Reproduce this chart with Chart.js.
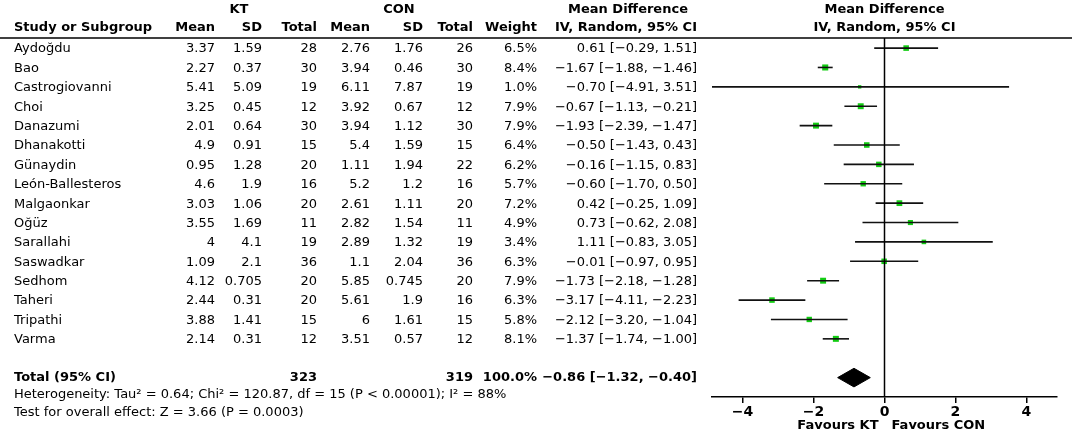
<!DOCTYPE html>
<html><head><meta charset="utf-8">
<script src="https://cdn.jsdelivr.net/npm/chart.js@4.4.1/dist/chart.umd.min.js"></script>
<style>html,body{margin:0;padding:0;background:#fff;}#wrap{width:1072px;height:433px;position:relative;}</style>
</head><body><div id="wrap"><canvas id="c"></canvas></div>
<script>
const studies=['Aydoğdu','Bao','Castrogiovanni','Choi','Danazumi','Dhanakotti','Günaydin','León-Ballesteros','Malgaonkar','Oğüz','Sarallahi','Saswadkar','Sedhom','Taheri','Tripathi','Varma'];
const ktMean=[3.37,2.27,5.41,3.25,2.01,4.9,0.95,4.6,3.03,3.55,4,1.09,4.12,2.44,3.88,2.14];
const ktSD=[1.59,0.37,5.09,0.45,0.64,0.91,1.28,1.9,1.06,1.69,4.1,2.1,0.705,0.31,1.41,0.31];
const ktN=[28,30,19,12,30,15,20,16,20,11,19,36,20,20,15,12];
const conMean=[2.76,3.94,6.11,3.92,3.94,5.4,1.11,5.2,2.61,2.82,2.89,1.1,5.85,5.61,6,3.51];
const conSD=[1.76,0.46,7.87,0.67,1.12,1.59,1.94,1.2,1.11,1.54,1.32,2.04,0.745,1.9,1.61,0.57];
const conN=[26,30,19,12,30,15,22,16,20,11,19,36,20,16,15,12];
const weight=[6.5,8.4,1.0,7.9,7.9,6.4,6.2,5.7,7.2,4.9,3.4,6.3,7.9,6.3,5.8,8.1];
const md=[0.61,-1.67,-0.70,-0.67,-1.93,-0.50,-0.16,-0.60,0.42,0.73,1.11,-0.01,-1.73,-3.17,-2.12,-1.37];
const ciLo=[-0.29,-1.88,-4.91,-1.13,-2.39,-1.43,-1.15,-1.70,-0.25,-0.62,-0.83,-0.97,-2.18,-4.11,-3.20,-1.74];
const ciHi=[1.51,-1.46,3.51,-0.21,-1.47,0.43,0.83,0.50,1.09,2.08,3.05,0.95,-1.28,-2.23,-1.04,-1.00];
const totalKtN=323, totalConN=319, totalWeight=100.0;
const totalMd=-0.86, totalLo=-1.32, totalHi=-0.40;
const xTicks=[-4,-2,0,2,4];
const heterogeneity='Heterogeneity: Tau² = 0.64; Chi² = 120.87, df = 15 (P < 0.00001); I² = 88%';
const overall='Test for overall effect: Z = 3.66 (P = 0.0003)';
const favLeft='Favours KT', favRight='Favours CON';

const X_MIN=-4.86, X_MAX=4.86, Y_MIN=-0.52, Y_MAX=18.0, TOTAL_ROW=17, DIAMOND_H=0.48;
const FONT='"DejaVu Sans", Verdana, sans-serif';
const neg=s=>s.replace(/-/g,'\u2212');
const f2=v=>neg(v.toFixed(2));
const ci=(m,l,h)=>f2(m)+' ['+f2(l)+', '+f2(h)+']';

const datasets=[];
datasets.push({data:[{x:0,y:Y_MIN},{x:0,y:Y_MAX}],showLine:true,borderColor:'#000',borderWidth:1.5,pointRadius:0});
studies.forEach((s,i)=>{
  datasets.push({data:[{x:ciLo[i],y:i},{x:ciHi[i],y:i}],showLine:true,borderColor:'#111',borderWidth:1.6,pointRadius:0});
});
datasets.push({data:md.map((m,i)=>({x:m,y:i})),showLine:false,pointStyle:'rect',
  pointRadius:weight.map(w=>(2+1.4*Math.sqrt(w))/Math.SQRT2),backgroundColor:'#12cc12',borderWidth:0});
datasets.push({data:[{x:totalLo,y:TOTAL_ROW},{x:totalMd,y:TOTAL_ROW-DIAMOND_H},{x:totalHi,y:TOTAL_ROW},{x:totalMd,y:TOTAL_ROW+DIAMOND_H},{x:totalLo,y:TOTAL_ROW}],
  showLine:true,fill:'shape',backgroundColor:'#000',borderColor:'#000',borderWidth:1,pointRadius:0,tension:0});

const tablePlugin={id:'table',afterDraw(chart){
  const ctx=chart.ctx, y=chart.scales.y, x=chart.scales.x, ca=chart.chartArea;
  ctx.save();
  ctx.fillStyle='#000';ctx.textBaseline='middle';
  const bold='bold 13px '+FONT, reg='13px '+FONT;
  const t=(s,px,py,al,f)=>{ctx.font=f;ctx.textAlign=al;ctx.fillText(s,px,py);};
  ctx.strokeStyle='#000';ctx.lineWidth=1.5;ctx.beginPath();ctx.moveTo(0,ca.top);ctx.lineTo(chart.width,ca.top);ctx.stroke();
  const h1=10,h2=28;
  t('KT',239,h1,'center',bold);t('CON',399,h1,'center',bold);
  t('Mean Difference',628,h1,'center',bold);t('Mean Difference',x.getPixelForValue(0),h1,'center',bold);
  t('Study or Subgroup',14,h2,'left',bold);
  t('Mean',215,h2,'right',bold);t('SD',262,h2,'right',bold);t('Total',317,h2,'right',bold);
  t('Mean',370,h2,'right',bold);t('SD',423,h2,'right',bold);t('Total',473,h2,'right',bold);
  t('Weight',537,h2,'right',bold);t('IV, Random, 95% CI',697,h2,'right',bold);
  t('IV, Random, 95% CI',x.getPixelForValue(0),h2,'center',bold);
  studies.forEach((s,i)=>{
    const py=y.getPixelForValue(i)+1;
    t(s,14,py,'left',reg);
    t(String(ktMean[i]),215,py,'right',reg);t(String(ktSD[i]),262,py,'right',reg);t(String(ktN[i]),317,py,'right',reg);
    t(String(conMean[i]),370,py,'right',reg);t(String(conSD[i]),423,py,'right',reg);t(String(conN[i]),473,py,'right',reg);
    t(weight[i].toFixed(1)+'%',537,py,'right',reg);
    t(ci(md[i],ciLo[i],ciHi[i]),697,py,'right',reg);
  });
  const ty=y.getPixelForValue(TOTAL_ROW);
  t('Total (95% CI)',14,ty,'left',bold);t(String(totalKtN),317,ty,'right',bold);t(String(totalConN),473,ty,'right',bold);
  t(totalWeight.toFixed(1)+'%',537,ty,'right',bold);t(ci(totalMd,totalLo,totalHi),697,ty,'right',bold);
  t(heterogeneity,14,395,'left',reg);
  t(overall,14,413,'left',reg);
  const zx=x.getPixelForValue(0);
  t(favLeft,zx-6,426,'right',bold);t(favRight,zx+7,426,'left',bold);
  ctx.restore();
}};

new Chart(document.getElementById('c'),{type:'scatter',data:{datasets},
 options:{responsive:true,maintainAspectRatio:false,animation:false,
  layout:{padding:{left:712,right:15,top:38,bottom:0}},
  plugins:{legend:{display:false},tooltip:{enabled:false}},
  scales:{
   x:{type:'linear',min:X_MIN,max:X_MAX,
      afterBuildTicks:s=>{s.ticks=xTicks.map(v=>({value:v}));},
      afterFit:s=>{s.height=36;},
      grid:{drawOnChartArea:false,drawTicks:true,tickLength:6,color:'#000',lineWidth:1.5},
      border:{display:true,color:'#000',width:1.5},
      ticks:{color:'#000',padding:1,font:{family:FONT,size:14,weight:'bold'},maxRotation:0,callback:v=>neg(String(v))}},
   y:{type:'linear',display:false,min:Y_MIN,max:Y_MAX,reverse:true}
  }},
 plugins:[tablePlugin]});
</script></body></html>
